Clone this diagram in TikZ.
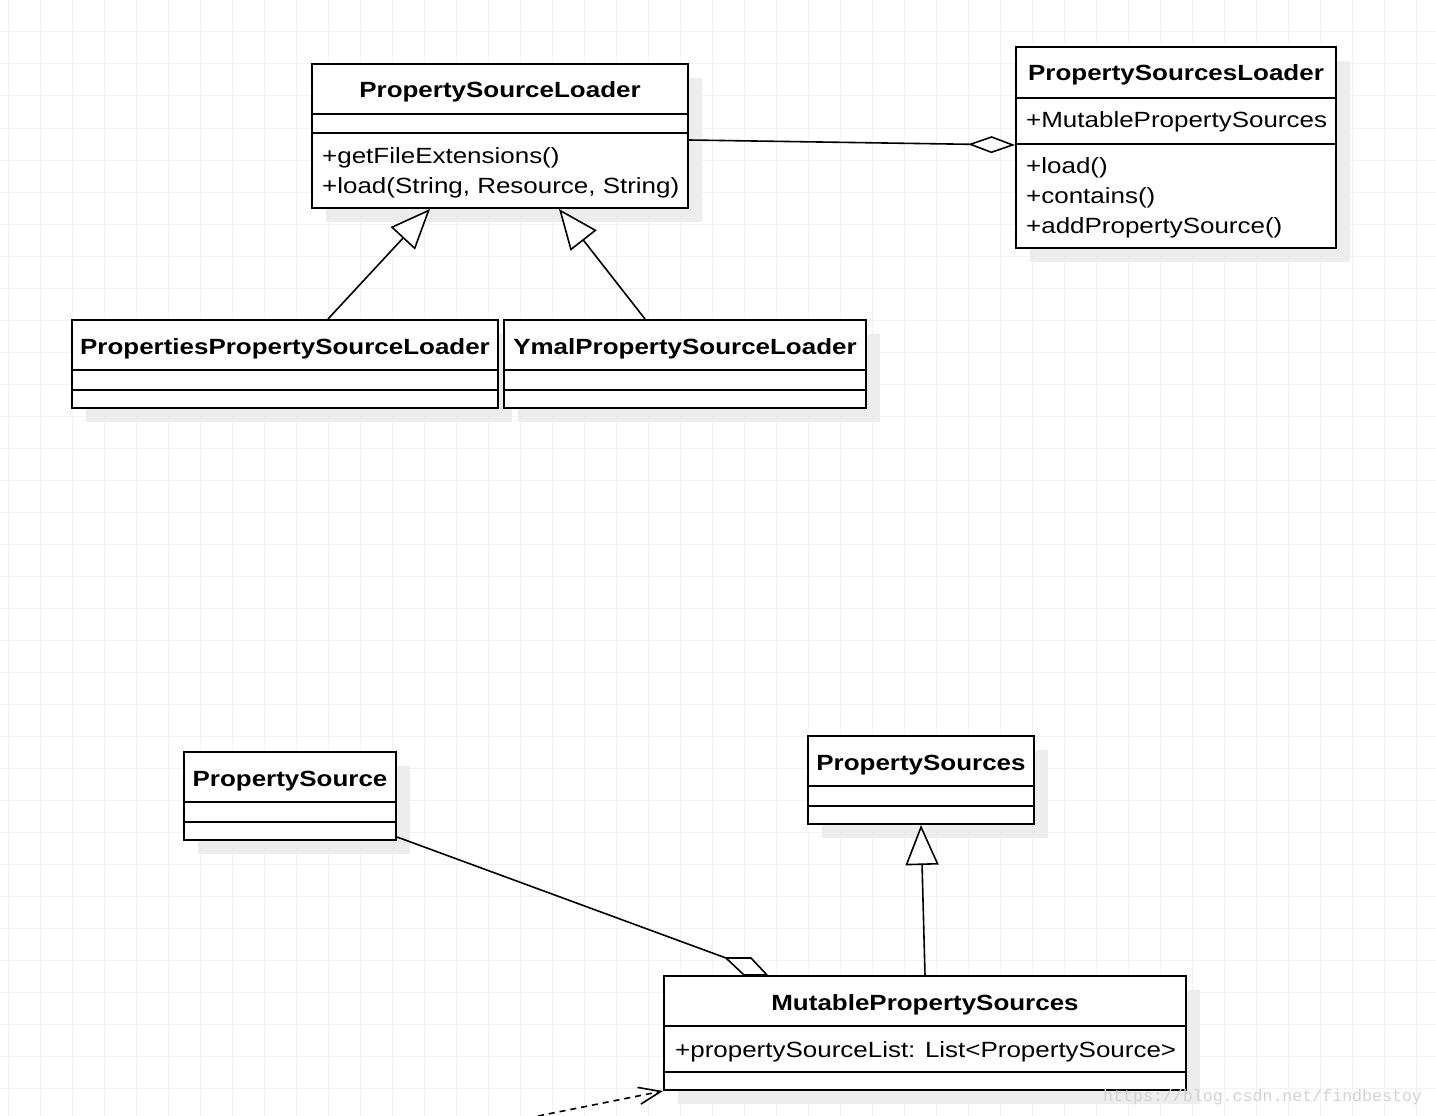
\documentclass[tikz,border=0pt]{standalone}
\usepackage{fontspec}
\setmainfont{Liberation Sans}[FakeStretch=1.18]
\newfontfamily\markfont{Liberation Mono}
\usetikzlibrary{arrows.meta}

\definecolor{gridgray}{RGB}{242,242,242}
\definecolor{shadowgray}{RGB}{237,237,237}
\definecolor{markgray}{RGB}{210,210,210}

\tikzset{
  classframe/.style={draw, line width=2pt, fill=white, rectangle, inner sep=0pt},
  classrule/.style={line width=2pt},
  classtitle/.style={anchor=base, inner sep=0pt, font=\fontsize{22}{30}\selectfont\bfseries},
  member/.style={anchor=base west, inner sep=0pt, font=\fontsize{22}{30}\selectfont},
  inherit/.style={line width=1.6pt, -{Triangle[open, length=40pt, width=33pt, fill=white]}},
  aggregate/.style={line width=1.6pt, -{Diamond[open, length=47pt, width=17pt, fill=white]}},
  depend/.style={line width=1.6pt, dashed, dash pattern=on 6pt off 5pt, -{Straight Barb[length=22pt, width=17pt]}},
}

% name, left, top, right, bottom, first rule, second rule, title
\newcommand{\classbox}[8]{%
  \fill[shadowgray] (#2+14,#3+14) rectangle (#4+14,#5+14);
  \node[classframe, minimum width=#4-#2, minimum height=#5-#3] (#1) at ({(#2+#4)/2},{(#3+#5)/2}) {};
  \draw[classrule] (#2,#6) -- (#4,#6);
  \draw[classrule] (#2,#7) -- (#4,#7);
  \node[classtitle] (#1-title) at ({(#2+#4)/2},#3+34) {#8};
}

\begin{document}
\begin{tikzpicture}[x=1pt, y=-1pt]
  \useasboundingbox (0,0) rectangle (1436,1116);
  \fill[white] (0,0) rectangle (1436,1116);
  \foreach \x in {8,40,...,1432}
    \draw[gridgray, line width=1pt] (\x,0) -- (\x,1116);
  \foreach \y in {0,32,...,1116}
    \draw[gridgray, line width=1pt] (0,\y) -- (1436,\y);

  % loaders
  \classbox{psl}{312}{64}{688}{208}{114}{133}{PropertySourceLoader}
  \foreach \m [count=\i] in {+getFileExtensions(), {+load(String, Resource, String)}}
    \node[member] (psl-m\i) at (322,133+30*\i) {\m};

  \classbox{psls}{1016}{47}{1336}{248}{98}{144}{PropertySourcesLoader}
  \node[member] (psls-a1) at (1026,127) {+MutablePropertySources};
  \foreach \m [count=\i] in {+load(), +contains(), +addPropertySource()}
    \node[member] (psls-m\i) at (1026,143+30*\i) {\m};

  \classbox{ppsl}{72}{320}{498}{408}{370}{390}{PropertiesPropertySourceLoader}
  \classbox{ypsl}{504}{320}{866}{408}{370}{390}{YmalPropertySourceLoader}

  \draw[aggregate] ([yshift=-4pt]psl.east) -- ([yshift=2.5pt]psls.west);
  \draw[inherit] ([xshift=43pt]ppsl.north) -- ([xshift=-70pt]psl.south);
  \draw[inherit] ([xshift=-40pt]ypsl.north) -- ([xshift=59pt]psl.south);

  % sources
  \classbox{ps}{184}{752}{396}{840}{802}{822}{PropertySource}
  \classbox{pss}{808}{736}{1034}{824}{786}{806}{PropertySources}
  \classbox{mps}{664}{976}{1186}{1090}{1026}{1072}{MutablePropertySources}
  \node[member] (mps-a1) at (675,1057) {+propertySourceList: List<PropertySource>};

  \coordinate (agg) at ([xshift=63pt, yshift=17pt]mps.north west);
  \draw[line width=1.6pt] ([yshift=4pt]ps.south east) -- (agg);
  \draw[line width=1.6pt, fill=white, line join=round] (agg) -- ++(25,0) -- ++(16,17) -- ++(-23,0) -- cycle;
  \draw[inherit] (mps.north) -- (pss.south);

  \coordinate (dashstart) at (538,1116);
  \draw[depend] (dashstart) -- (mps.south west);

  \node[anchor=base west, inner sep=0pt, text=markgray, font=\markfont\fontsize{16.6}{20}\selectfont] (mark) at (1103,1101) {https://blog.csdn.net/findbestoy};
\end{tikzpicture}
\end{document}
